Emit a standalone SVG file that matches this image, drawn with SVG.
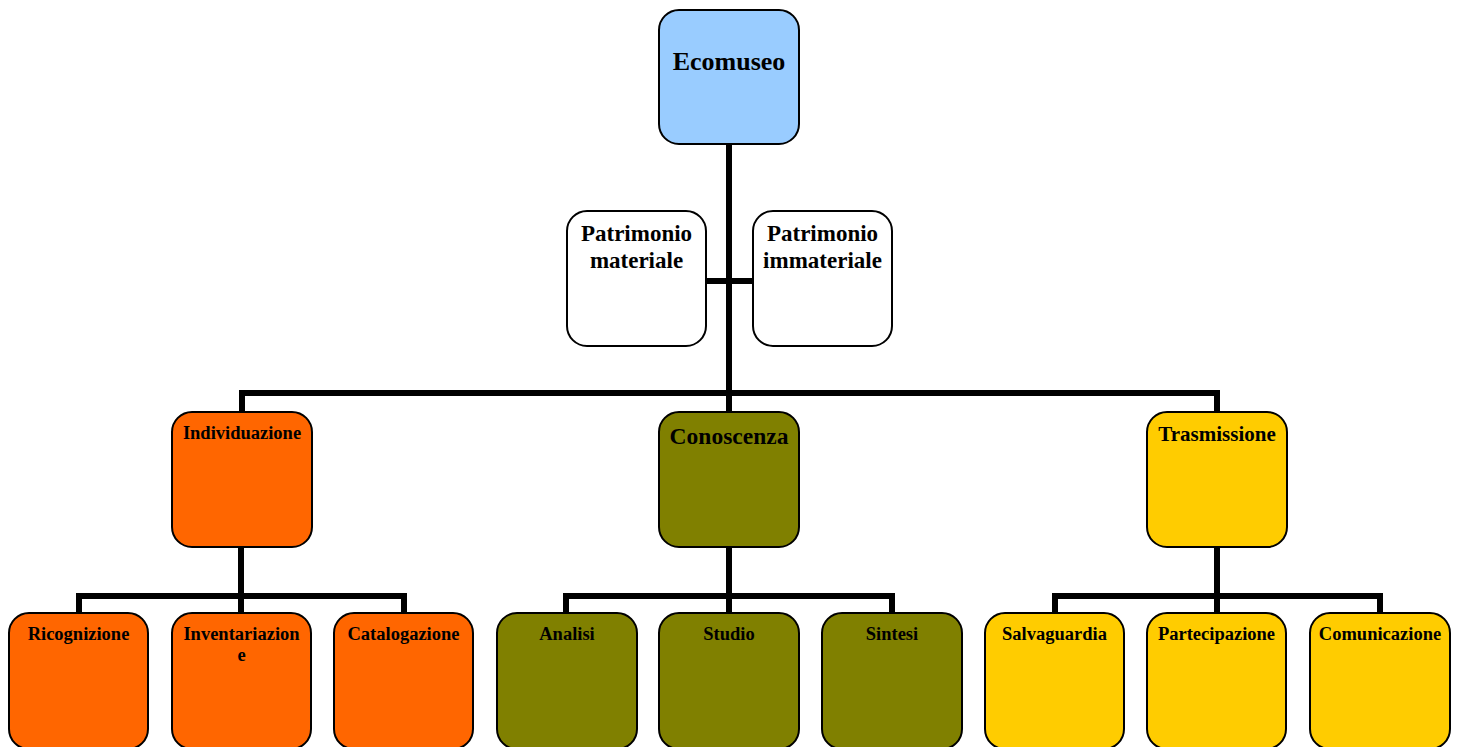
<svg xmlns="http://www.w3.org/2000/svg" width="1459" height="747" viewBox="0 0 1459 747">
<style>
.box{stroke:#000;stroke-width:2}
.t{font-family:"Liberation Serif","Times New Roman",serif;font-weight:bold;fill:#000;text-anchor:middle}
.s{font-size:18.5px}
.conn{fill:none;stroke:#000;stroke-width:6;stroke-linejoin:miter;stroke-linecap:butt}
.blue{fill:#99ccff}.white{fill:#fff}.orange{fill:#ff6600}.olive{fill:#808000}.yellow{fill:#ffcc00}
</style>
<rect width="1459" height="747" fill="#fff"/>
<g id="connectors">
<path class="conn" d="M729,144 V412 M706,281 H753 M242,412 V393 H1217 V412"/>
<path class="conn" d="M79,613 V596 H404 V613 M241,547 V613"/>
<path class="conn" d="M566,613 V596 H892 V613 M729,547 V613"/>
<path class="conn" d="M1055,613 V596 H1380 V613 M1217,547 V613"/>
</g>
<g id="ecomuseo"><rect class="box blue" x="659" y="10" width="140" height="134" rx="20"/><text class="t" x="729" y="70" font-size="26">Ecomuseo</text></g>
<g id="patrimonio-materiale"><rect class="box white" x="567" y="211" width="139" height="135" rx="20"/><text class="t" x="636.5" y="241" font-size="23">Patrimonio</text><text class="t" x="636.5" y="268" font-size="23">materiale</text></g>
<g id="patrimonio-immateriale"><rect class="box white" x="753" y="211" width="139" height="135" rx="20"/><text class="t" x="822.5" y="241" font-size="23">Patrimonio</text><text class="t" x="822.5" y="268" font-size="23">immateriale</text></g>
<g id="individuazione"><rect class="box orange" x="172" y="412" width="140" height="135" rx="20"/><text class="t s" x="242" y="439">Individuazione</text></g>
<g id="conoscenza"><rect class="box olive" x="659" y="412" width="140" height="135" rx="20"/><text class="t" x="729" y="444" font-size="23.5">Conoscenza</text></g>
<g id="trasmissione"><rect class="box yellow" x="1147" y="412" width="140" height="135" rx="20"/><text class="t" x="1217" y="441" font-size="21">Trasmissione</text></g>
<g id="ricognizione"><rect class="box orange" x="9" y="613" width="139" height="136" rx="20"/><text class="t s" x="78.5" y="640">Ricognizione</text></g>
<g id="inventariazione"><rect class="box orange" x="172" y="613" width="139" height="136" rx="20"/><text class="t s" x="241.5" y="640">Inventariazion</text><text class="t s" x="241.5" y="661">e</text></g>
<g id="catalogazione"><rect class="box orange" x="334" y="613" width="139" height="136" rx="20"/><text class="t s" x="403.5" y="640">Catalogazione</text></g>
<g id="analisi"><rect class="box olive" x="497" y="613" width="140" height="136" rx="20"/><text class="t s" x="567" y="640">Analisi</text></g>
<g id="studio"><rect class="box olive" x="659" y="613" width="140" height="136" rx="20"/><text class="t s" x="729" y="640">Studio</text></g>
<g id="sintesi"><rect class="box olive" x="822" y="613" width="140" height="136" rx="20"/><text class="t s" x="892" y="640">Sintesi</text></g>
<g id="salvaguardia"><rect class="box yellow" x="985" y="613" width="139" height="136" rx="20"/><text class="t s" x="1054.5" y="640">Salvaguardia</text></g>
<g id="partecipazione"><rect class="box yellow" x="1147" y="613" width="139" height="136" rx="20"/><text class="t s" x="1216.5" y="640">Partecipazione</text></g>
<g id="comunicazione"><rect class="box yellow" x="1310" y="613" width="140" height="136" rx="20"/><text class="t s" x="1380" y="640">Comunicazione</text></g>
</svg>
